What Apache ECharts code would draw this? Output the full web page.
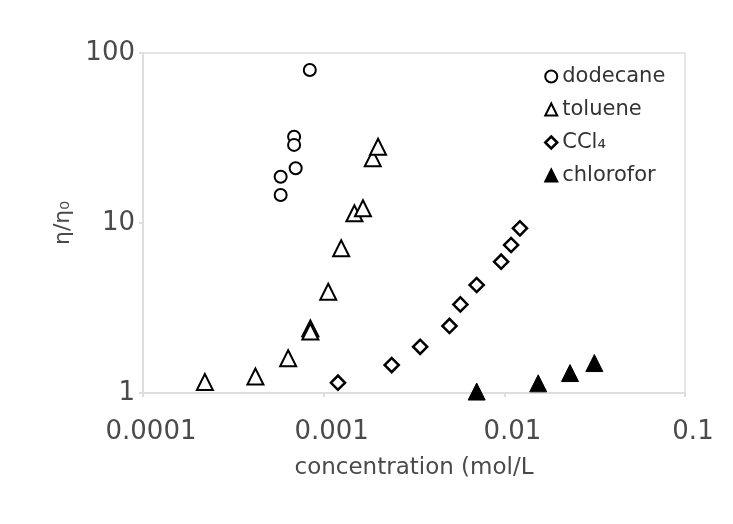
<!DOCTYPE html>
<html>
<head>
<meta charset="utf-8">
<script src="https://cdn.jsdelivr.net/npm/echarts@6/dist/echarts.min.js"></script>
<style>
  html, body { margin: 0; padding: 0; background: #fff; }
  #chart { width: 733px; height: 524px; }
</style>
</head>
<body>
<div id="chart"></div>
<script>
// concentration (mol/L) vs relative viscosity
const dodecaneX = [0.000838, 0.000686, 0.000686, 0.0007, 0.000578, 0.000578];
const dodecaneY = [79.5, 32.2, 28.8, 21, 18.7, 14.6];

const tolueneX = [0.00022, 0.000419, 0.000636, 0.000844, 0.000844, 0.00106, 0.00125, 0.00148, 0.00165, 0.00187, 0.002];
const tolueneY = [1.16, 1.25, 1.6, 2.4, 2.3, 3.94, 7.1, 11.4, 12.2, 24, 28.1];

const ccl4X = [0.0012, 0.00238, 0.00342, 0.00497, 0.00571, 0.00703, 0.0096, 0.0109, 0.0122];
const ccl4Y = [1.15, 1.46, 1.87, 2.48, 3.32, 4.32, 5.92, 7.42, 9.3];

const chloroX = [0.00703, 0.0154, 0.0231, 0.0315];
const chloroY = [1.02, 1.14, 1.31, 1.5];

const xTicks = { 0.0001: '0.0001', 0.001: '0.001', 0.01: '0.01', 0.1: '0.1' };
const yTicks = { 1: '1', 10: '10', 100: '100' };

function pairs(xs, ys) { return xs.map((x, i) => [x, ys[i]]); }

const font = 'DejaVu Sans';
const chart = echarts.init(document.getElementById('chart'));

const axisCommon = {
  type: 'log',
  logBase: 10,
  axisLine: { show: true, lineStyle: { color: '#dedede', width: 2 } },
  axisTick: { show: true, length: 4, lineStyle: { color: '#dedede', width: 2 } },
  splitLine: { show: false },
  axisLabel: { color: '#4a4a4a', fontSize: 26, fontFamily: font },
  nameTextStyle: { color: '#4a4a4a', fontSize: 23, fontFamily: font }
};

const hollow = { color: '#fff', borderColor: '#000', borderWidth: 2, opacity: 1 };

chart.setOption({
  animation: false,
  backgroundColor: '#fff',
  textStyle: { fontFamily: font },
  grid: { left: 143, right: 48, top: 53, bottom: 131, show: true, borderColor: '#e6e6e6', borderWidth: 2 },
  xAxis: Object.assign({}, axisCommon, {
    min: 0.0001, max: 0.1,
    name: 'concentration (mol/L',
    nameLocation: 'middle',
    nameGap: 64,
    axisLabel: Object.assign({}, axisCommon.axisLabel, {
      margin: 26, padding: [0, 0, 0, 16],
      formatter: v => xTicks[+v.toPrecision(3)] || ''
    })
  }),
  yAxis: Object.assign({}, axisCommon, {
    min: 1, max: 100,
    name: 'η/η₀',
    nameLocation: 'middle',
    nameGap: 68,
    nameTextStyle: Object.assign({}, axisCommon.nameTextStyle, { fontSize: 22 }),
    axisLabel: Object.assign({}, axisCommon.axisLabel, { margin: 8, formatter: v => yTicks[+v.toPrecision(3)] || '' })
  }),
  legend: {
    left: 539, top: 62,
    orient: 'vertical',
    itemGap: 12,
    itemWidth: 12, itemHeight: 12,
    backgroundColor: '#fff',
    padding: [4, 14, 6, 5],
    textStyle: { color: '#333', fontSize: 21, fontFamily: font, padding: [0, 0, 0, 0] },
    data: [
      { name: 'dodecane', icon: 'circle', itemStyle: hollow },
      { name: 'toluene', icon: 'triangle', itemStyle: hollow },
      { name: 'CCl₄', icon: 'diamond', itemStyle: Object.assign({}, hollow, { borderWidth: 2.5 }) },
      { name: 'chlorofor', icon: 'triangle', itemStyle: { color: '#000', borderColor: '#000', opacity: 1 } }
    ]
  },
  series: [
    {
      name: 'dodecane', type: 'scatter', symbol: 'circle', symbolSize: 12,
      itemStyle: hollow,
      data: pairs(dodecaneX, dodecaneY)
    },
    {
      name: 'toluene', type: 'scatter', symbol: 'triangle', symbolSize: 16,
      itemStyle: hollow,
      data: pairs(tolueneX, tolueneY)
    },
    {
      name: 'CCl₄', type: 'scatter', symbol: 'rect', symbolSize: 10, symbolRotate: 45,
      itemStyle: Object.assign({}, hollow, { borderWidth: 2.5 }),
      data: pairs(ccl4X, ccl4Y)
    },
    {
      name: 'chlorofor', type: 'scatter', symbol: 'triangle', symbolSize: 17,
      itemStyle: { color: '#000', borderColor: '#000', borderWidth: 1, opacity: 1 },
      data: pairs(chloroX, chloroY)
    }
  ]
});
</script>
</body>
</html>
